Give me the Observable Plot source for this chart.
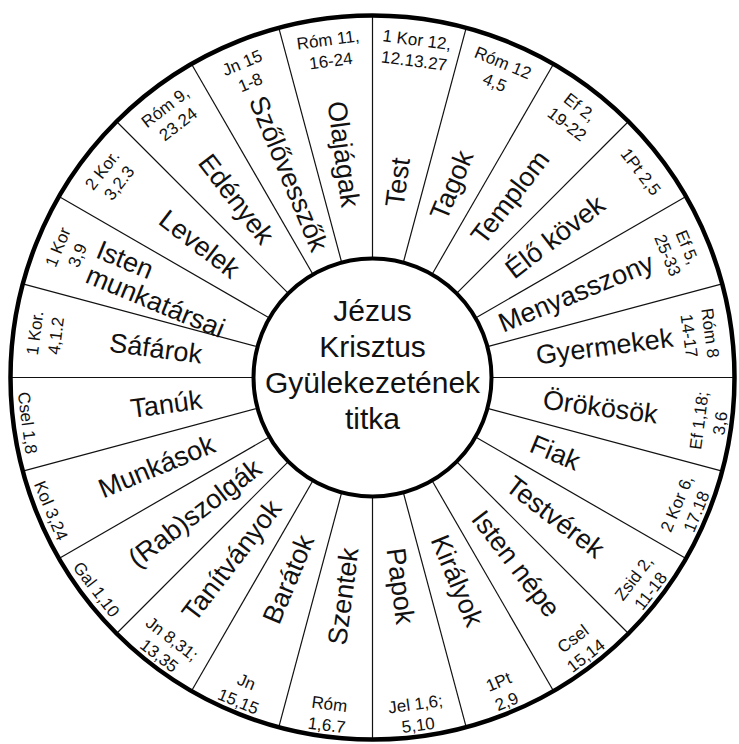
<!DOCTYPE html>
<html>
<head>
<meta charset="utf-8">
<script src="https://cdn.jsdelivr.net/npm/d3@7"></script>
<script src="https://cdn.jsdelivr.net/npm/@observablehq/plot@0.6"></script>
<style>
  html, body { margin: 0; padding: 0; background: #fff; }
  #chart { width: 739px; height: 744px; }
</style>
</head>
<body>
<div id="chart"></div>
<script>
// ---- Data ----
const centerTitle = ["Jézus", "Krisztus", "Gyülekezetének", "titka"];

// Segments clockwise, starting at the top (12 o'clock)
const names = [
  "Test", "Tagok", "Templom", "Élő kövek", "Menyasszony", "Gyermekek",
  "Örökösök", "Fiak", "Testvérek", "Isten népe", "Királyok", "Papok",
  "Szentek", "Barátok", "Tanítványok", "(Rab)szolgák", "Munkások", "Tanúk",
  "Sáfárok", "Isten\nmunkatársai", "Levelek", "Edények", "Szőlővesszők", "Olajágak"
];
const references = [
  "1 Kor 12,\n12.13.27", "Róm 12\n4,5", "Ef 2,\n19-22", "1Pt 2,5", "Ef 5,\n25-33", "Róm 8\n14-17",
  "Ef 1,18;\n3,6", "2 Kor 6,\n17.18", "Zsid 2,\n11-18", "Csel\n15,14", "1Pt\n2,9", "Jel 1,6;\n5,10",
  "Róm\n1,6.7", "Jn\n15,15", "Jn 8,31;\n13,35", "Gal 1,10", "Kol 3,24", "Csel 1,8",
  "1 Kor.\n4,1.2", "1 Kor\n3,9", "2 Kor.\n3,2.3", "Róm 9,\n23.24", "Jn 15\n1-8", "Róm 11,\n16-24"
];

// ---- Layout ----
const W = 739, H = 744;
const CX = 372, CY = 377;       // pixel position of wheel centre
const R_OUT = 362, R_IN = 119;
const FONT = "'Liberation Sans', Arial, Helvetica, sans-serif";
const LABEL_SIZE = 27, REF_SIZE = 17, TITLE_SIZE = 30;
const n = names.length;
const step = 360 / n;
const rad = Math.PI / 180;

const ctx = document.createElement("canvas").getContext("2d");
ctx.font = `${LABEL_SIZE}px 'Liberation Sans'`;
const measure = (s) => Math.max(...s.split("\n").map(l => ctx.measureText(l).width));

const px = (a, r) => r * Math.sin(a * rad);
const py = (a, r) => r * Math.cos(a * rad);

const segments = names.map((name, i) => {
  const a = (i + 0.5) * step;           // compass angle of segment centre
  const w = measure(name);
  const rStart = Math.min(172, 303 - w);
  const right = a < 180;
  const rAnchor = right ? rStart : rStart + w;
  const ref = references[i];
  const lines = ref.split("\n").length;
  const upper = a < 90 || a >= 270;
  const rRef = (upper ? 331 : 339) + (lines > 1 ? 0 : 8);
  return {
    name, ref, a,
    lx: px(a, rAnchor), ly: py(a, rAnchor),
    lrot: right ? a - 90 : a + 90,
    rx: px(a, rRef), ry: py(a, rRef),
    rrot: upper ? (a >= 270 ? a - 360 : a) : a - 180
  };
});
const boundaries = d3.range(n).map(i => ({a: i * step}));
const rings = [{radius: R_OUT, sw: 4.5, fill: "none"}, {radius: R_IN, sw: 4, fill: "white"}];

const chart = Plot.plot({
  width: W, height: H, margin: 0,
  x: {domain: [-CX, W - CX], axis: null},
  y: {domain: [-(H - CY), CY], axis: null},
  r: {type: "identity"},
  style: {background: "#fff", fontFamily: FONT},
  marks: [
    Plot.link(boundaries, {
      x1: d => px(d.a, R_IN), y1: d => py(d.a, R_IN),
      x2: d => px(d.a, R_OUT), y2: d => py(d.a, R_OUT),
      stroke: "#111", strokeWidth: 1.2
    }),
    Plot.dot(rings, {x: () => 0, y: () => 0, r: "radius", stroke: "#000", strokeWidth: d => d.sw, fill: d => d.fill, sort: null}),
    Plot.text(segments, {
      x: "lx", y: "ly", text: "name", rotate: "lrot",
      textAnchor: "start", lineAnchor: "middle",
      fontSize: LABEL_SIZE, fontFamily: FONT, fill: "#111", lineHeight: 1.0
    }),
    Plot.text(segments, {
      x: "rx", y: "ry", text: "ref", rotate: "rrot",
      textAnchor: "middle", lineAnchor: "middle",
      fontSize: REF_SIZE, fontFamily: FONT, fill: "#111", lineHeight: 1.25
    }),
    Plot.text([centerTitle.join("\n")], {
      x: () => 0, y: () => 14, text: d => d,
      textAnchor: "middle", lineAnchor: "middle",
      fontSize: TITLE_SIZE, fontFamily: FONT, fill: "#111", lineHeight: 1.2
    })
  ]
});
document.getElementById("chart").append(chart);
</script>
</body>
</html>
